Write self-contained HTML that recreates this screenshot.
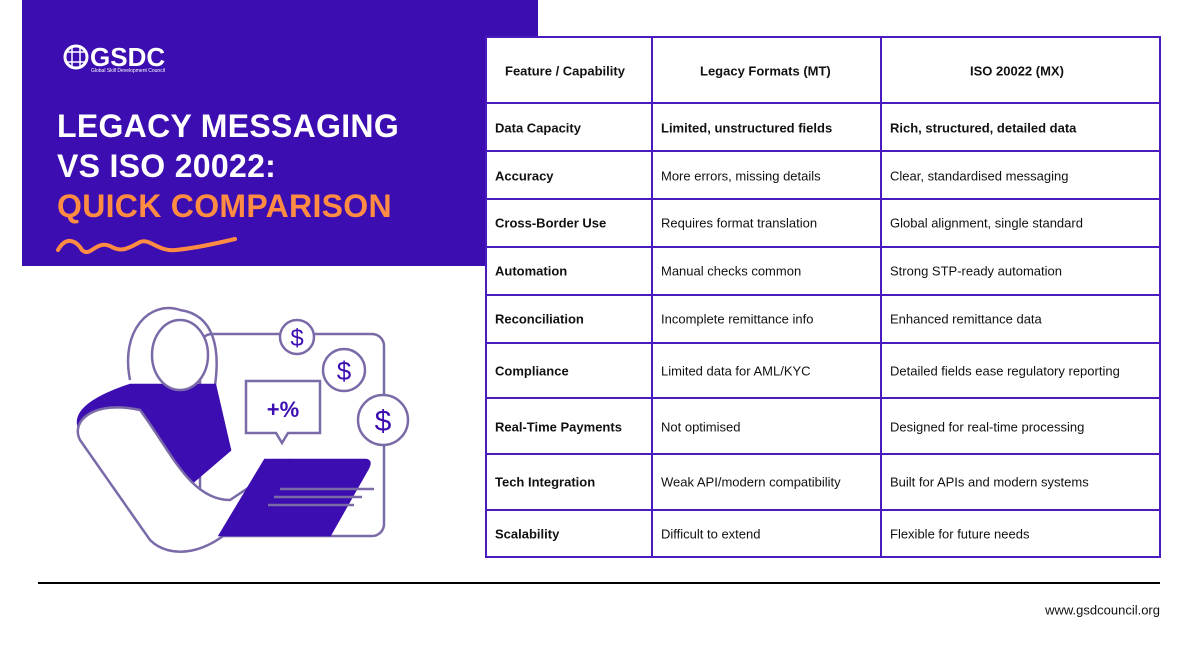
<!DOCTYPE html>
<html><head><meta charset="utf-8"><style>
body{margin:0;width:1200px;height:650px;background:#fff;position:relative;overflow:hidden;font-family:"Liberation Sans",sans-serif}
.blk{position:absolute;left:22px;top:0;width:516px;height:266px;background:#3c0db0}
.t{position:absolute;font-size:13px;color:#111;white-space:nowrap;transform:translateY(-50%)}
.b{font-weight:bold}
h1{position:absolute;left:57px;top:106px;margin:0;font-size:32px;line-height:40px;color:#fff;font-weight:bold;letter-spacing:0.3px}
h1 span{color:#ff8c42}
</style></head><body>
<div class="blk"></div>
<svg style="position:absolute;left:0;top:0" width="1200" height="650">
 <g fill="none" stroke="#fff" stroke-width="3"><circle cx="76" cy="57" r="11"/><path d="M66 52h20M66 62h20M72 46v22M80 46v22" stroke-width="1.5"/></g>
 <text x="90" y="66" fill="#fff" font-family="Liberation Sans" font-weight="bold" font-size="26">GSDC</text>
 <text x="91" y="72" fill="#fff" font-family="Liberation Sans" font-size="5">Global Skill Development Council</text>
 <path d="M58 250 C66 236,76 240,82 250 C90 258,96 240,110 246 C120 252,126 250,140 242 C150 238,158 252,176 250 C196 248,214 244,235 239" fill="none" stroke="#ff8c42" stroke-width="4" stroke-linecap="round"/>
 <!-- illustration -->
 <g fill="none" stroke="#7a6aa8" stroke-width="2.5">
  <rect x="200" y="334" width="184" height="202" rx="12" fill="#fff"/>
  <circle cx="297" cy="337" r="17" fill="#fff"/><circle cx="344" cy="370" r="21" fill="#fff"/><circle cx="383" cy="420" r="25" fill="#fff"/>
  <path d="M246 381h74v52h-32l-6 10-6-10h-30z" fill="#fff"/>
  <path d="M130 380 C120 330,150 300,180 310 C215 315,220 350,215 385"/>
  <path d="M80 430 C70 410,100 395,130 385 L215 385 L230 450 L160 510 Z" fill="#3c0db0" stroke="#3c0db0"/>
  <path d="M80 440 C70 420,95 400,140 410 C170 450,190 500,230 500 L290 460 L300 470 L240 520 C210 555,170 560,150 540 Z" fill="#fff"/>
  <ellipse cx="180" cy="355" rx="28" ry="35" fill="#fff"/>
  <path d="M265 460 L365 460 Q372 460,368 468 L330 535 L220 535 Z" fill="#3c0db0" stroke="#3c0db0"/>
  <path d="M280 489h94M274 497h88M268 505h86"/>
 </g>
 <text x="297" y="346" text-anchor="middle" fill="#3c0db0" font-size="24" font-family="Liberation Sans">$</text>
 <text x="344" y="380" text-anchor="middle" fill="#3c0db0" font-size="26" font-family="Liberation Sans">$</text>
 <text x="383" y="431" text-anchor="middle" fill="#3c0db0" font-size="30" font-family="Liberation Sans">$</text>
 <text x="283" y="417" text-anchor="middle" fill="#3c0db0" font-size="22" font-weight="bold" font-family="Liberation Sans">+%</text>
 <!-- table -->
 <rect x="486" y="37" width="674" height="520" fill="#fff" stroke="#4a1cc0" stroke-width="2"/>
 <g stroke="#4a1cc0" stroke-width="2">
  <line x1="652" y1="37" x2="652" y2="557"/><line x1="881" y1="37" x2="881" y2="557"/>
  <line x1="486" y1="103" x2="1160" y2="103"/><line x1="486" y1="151" x2="1160" y2="151"/>
  <line x1="486" y1="199" x2="1160" y2="199"/><line x1="486" y1="247" x2="1160" y2="247"/>
  <line x1="486" y1="295" x2="1160" y2="295"/><line x1="486" y1="343" x2="1160" y2="343"/>
  <line x1="486" y1="398" x2="1160" y2="398"/><line x1="486" y1="454" x2="1160" y2="454"/>
  <line x1="486" y1="510" x2="1160" y2="510"/>
 </g>
 <line x1="38" y1="583" x2="1160" y2="583" stroke="#000" stroke-width="2"/>
</svg>
<h1>LEGACY MESSAGING<br>VS ISO 20022:<br><span>QUICK COMPARISON</span></h1>
<div class="t b" style="left:505px;top:71px">Feature / Capability</div>
<div class="t b" style="left:700px;top:71px">Legacy Formats (MT)</div>
<div class="t b" style="left:970px;top:71px">ISO 20022 (MX)</div>
<div class="t b" style="left:495px;top:128px">Data Capacity</div><div class="t b" style="left:661px;top:128px">Limited, unstructured fields</div><div class="t b" style="left:890px;top:128px">Rich, structured, detailed data</div>
<div class="t b" style="left:495px;top:176px">Accuracy</div><div class="t" style="left:661px;top:176px">More errors, missing details</div><div class="t" style="left:890px;top:176px">Clear, standardised messaging</div>
<div class="t b" style="left:495px;top:223px">Cross-Border Use</div><div class="t" style="left:661px;top:223px">Requires format translation</div><div class="t" style="left:890px;top:223px">Global alignment, single standard</div>
<div class="t b" style="left:495px;top:271px">Automation</div><div class="t" style="left:661px;top:271px">Manual checks common</div><div class="t" style="left:890px;top:271px">Strong STP-ready automation</div>
<div class="t b" style="left:495px;top:319px">Reconciliation</div><div class="t" style="left:661px;top:319px">Incomplete remittance info</div><div class="t" style="left:890px;top:319px">Enhanced remittance data</div>
<div class="t b" style="left:495px;top:371px">Compliance</div><div class="t" style="left:661px;top:371px">Limited data for AML/KYC</div><div class="t" style="left:890px;top:371px">Detailed fields ease regulatory reporting</div>
<div class="t b" style="left:495px;top:427px">Real-Time Payments</div><div class="t" style="left:661px;top:427px">Not optimised</div><div class="t" style="left:890px;top:427px">Designed for real-time processing</div>
<div class="t b" style="left:495px;top:482px">Tech Integration</div><div class="t" style="left:661px;top:482px">Weak API/modern compatibility</div><div class="t" style="left:890px;top:482px">Built for APIs and modern systems</div>
<div class="t b" style="left:495px;top:534px">Scalability</div><div class="t" style="left:661px;top:534px">Difficult to extend</div><div class="t" style="left:890px;top:534px">Flexible for future needs</div>
<div class="t" style="right:40px;top:610px">www.gsdcouncil.org</div>
</body></html>
